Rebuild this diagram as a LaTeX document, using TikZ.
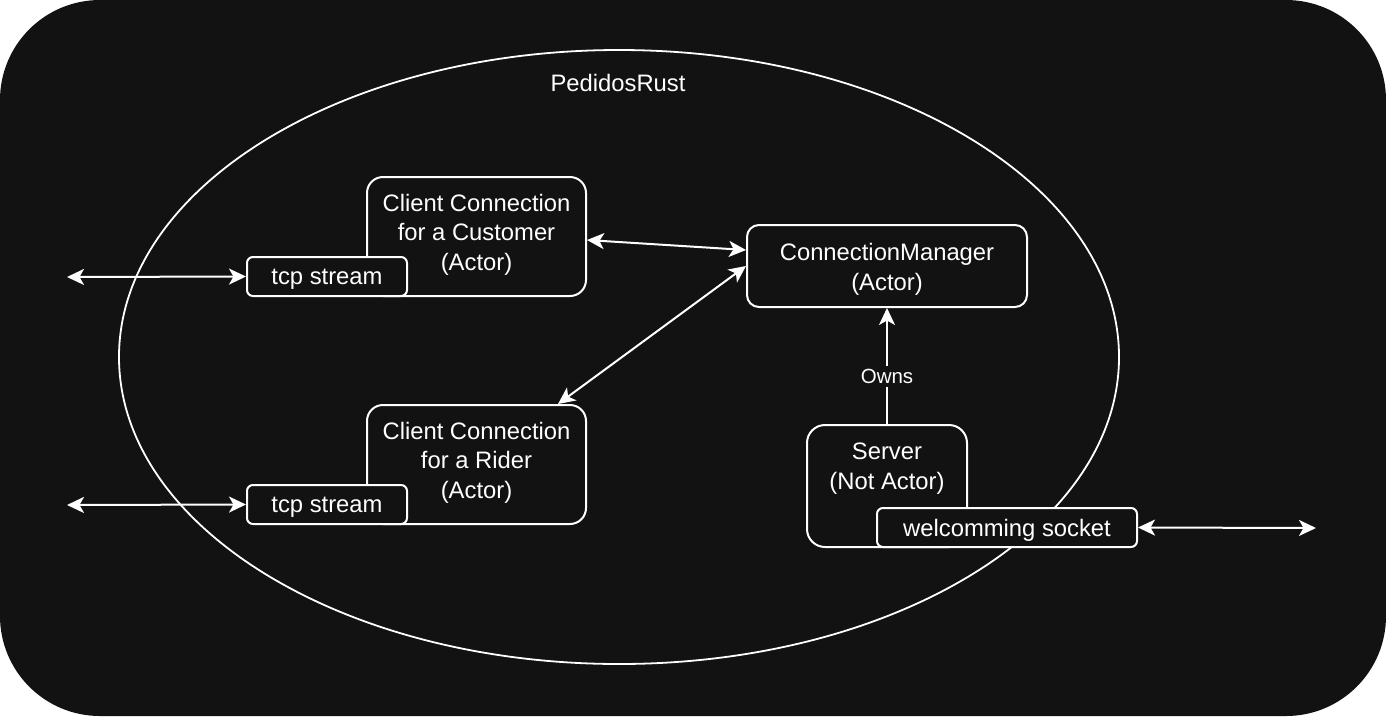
\documentclass[tikz,border=0pt]{standalone}
\usepackage{fontspec}
\setmainfont{Liberation Sans}
\usetikzlibrary{arrows.meta,shapes.geometric}
\definecolor{bg}{HTML}{121212}
\begin{document}
\begin{tikzpicture}[x=1pt,y=-1pt,
  mainfont/.style={font=\fontsize{23.8}{29.5}\selectfont},
  box/.style={draw=white, line width=2pt, fill=bg, text=white, align=center, inner sep=0pt, mainfont},
  boxtext/.style={text=white, mainfont, align=center, inner sep=0pt},
  arr/.style={draw=white, line width=2pt, {Stealth[length=17pt,width=16pt,inset=4.5pt]}-{Stealth[length=17pt,width=16pt,inset=4.5pt]}},
  onearr/.style={draw=white, line width=2pt, -{Stealth[length=17pt,width=16pt,inset=4.5pt]}}
]
\fill[white] (0,0) rectangle (1386,716);
\fill[bg, rounded corners=100pt] (0,0) rectangle (1386,716);
\node[draw=white, line width=1.8pt, ellipse, minimum width=1000pt, minimum height=614pt, inner sep=0pt] (ell) at (619,357) {};
\node[boxtext] (title) at (618,83) {PedidosRust};

\node[box, rounded corners=16pt, minimum width=219pt, minimum height=119pt] (cc) at (476.5,236.5) {};
\node[boxtext] (cctext) at (476.5,234.5) {Client Connection\\for a Customer\\(Actor)};
\node[box, rounded corners=6pt, minimum width=160pt, minimum height=39pt, text depth=0pt] (tcp1) at (327,276.5) {tcp stream};

\node[box, rounded corners=16pt, minimum width=219pt, minimum height=119pt] (rider) at (476.5,464.5) {};
\node[boxtext] (ridertext) at (476.5,462.5) {Client Connection\\for a Rider\\(Actor)};
\node[box, rounded corners=6pt, minimum width=160pt, minimum height=39pt, text depth=0pt] (tcp2) at (327,504.5) {tcp stream};

\node[box, rounded corners=12pt, minimum width=280pt, minimum height=82pt] (cm) at (887,266) {};
\node[boxtext] (cmtext) at (887,269.5) {ConnectionManager\\(Actor)};

\node[box, rounded corners=18pt, minimum width=160pt, minimum height=122pt] (srv) at (887,486) {};
\node[boxtext] (srvtext) at (887,468.5) {Server\\(Not Actor)};
\node[box, rounded corners=6pt, minimum width=260pt, minimum height=39pt, text depth=0pt] (sock) at (1007,527.5) {welcomming socket};

\coordinate (l1) at (67,277);
\coordinate (l2) at (67,505);
\coordinate (r3) at (1316,528);

\draw[arr] (l1) -- (tcp1.west);
\draw[arr] (l2) -- (tcp2.west);
\draw[arr] (sock.east) -- (r3);
\draw[arr] ([yshift=-3.5pt]cc.east) -- ([yshift=16pt]cm.west);
\draw[arr] ([xshift=81.5pt]rider.north) -- (cm.west);
\draw[onearr] (srv.north) -- (cm.south) node[pos=0.41, fill=bg, text=white, font=\fontsize{20.5}{24}\selectfont, inner sep=3pt] (owns) {Owns};
\end{tikzpicture}
\end{document}
